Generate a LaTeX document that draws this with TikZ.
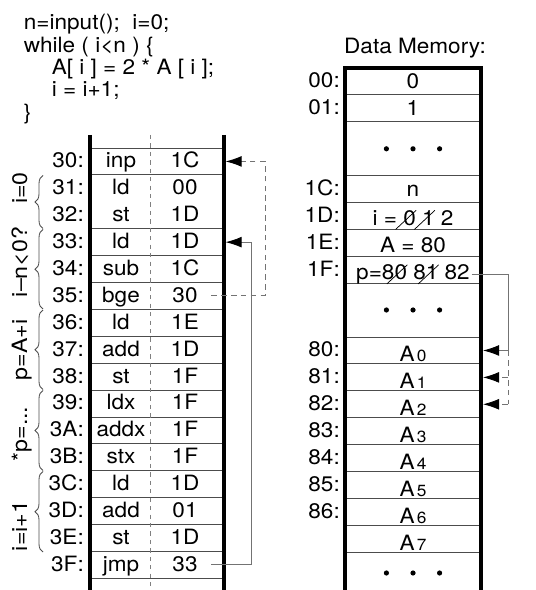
\documentclass[tikz,border=0pt]{standalone}
\usepackage{fontspec}
\setmainfont{TeX Gyre Heros}
\usetikzlibrary{arrows.meta,decorations.pathreplacing}

\tikzset{
  txt/.style={font=\fontsize{15}{18}\selectfont, inner sep=1pt, xscale=1.07, anchor=base},
  addr/.style={txt, anchor=base east},
  code/.style={txt, anchor=base west},
  lbl/.style={font=\fontsize{15}{18}\selectfont, inner sep=1pt, rotate=90, xscale=1.1, anchor=base},
  rowline/.style={draw=black!70, line width=0.6pt},
  wall/.style={line width=2.2pt},
  divline/.style={draw=black!50, line width=0.6pt, dash pattern=on 3pt off 3pt},
  conn/.style={draw=black!55, line width=0.6pt, -{Latex[length=0.4cm,width=0.27cm,color=black]}},
  dconn/.style={conn, dash pattern=on 4pt off 3pt},
  dline/.style={draw=black!55, line width=0.6pt, dash pattern=on 4pt off 3pt},
  brc/.style={decorate, decoration={brace,amplitude=0.2cm}, draw=black!70, line width=0.6pt}
}

\newcommand{\xo}[1]{\tikz[baseline=(xo.base)]{\node[inner sep=0pt,anchor=base] (xo) at (0,0) {#1}; \draw[overlay, line width=0.5pt] (xo.north east) -- ++(-0.48,-0.48);}}

\begin{document}
\begin{tikzpicture}[]
        \useasboundingbox (0,0) rectangle (13.4,14.75);

        \node[code] (c1) at (0.55,14.0) {n=input();~~i=0;};
        \node[code] (c2) at (0.55,13.4425) {while ( i<n ) \{};
        \node[code] (c3) at (1.25,12.885) {A[ i ] = 2 * A [ i ];};
        \node[code] (c4) at (1.25,12.3275) {i = i+1;};
        \node[code] (c5) at (0.55,11.77) {\}};

        % program memory
        \foreach \k in {0,1,3,4,...,16}
            \draw[rowline] (2.25,{11.05-0.6725*\k}) -- (5.6,{11.05-0.6725*\k});
        \draw[divline] (3.75,11.375) -- (3.75,0);
        \draw[wall] (2.25,11.375) -- (2.25,0);
        \draw[wall] (5.6,11.375) -- (5.6,0);

        \foreach \ad/\op/\ar [count=\k from 0] in {30/inp/1C,31/ld/00,32/st/1D,33/ld/1D,34/sub/1C,35/bge/30,36/ld/1E,37/add/1D,38/st/1F,39/ldx/1F,3A/addx/1F,3B/stx/1F,3C/ld/1D,3D/add/01,3E/st/1D,3F/jmp/33} {
            \node[addr] (a\ad) at (2.14,{11.05-0.6725*(\k+1)+0.175}) {\ad:};
            \node[txt] (op\ad) at (3.025,{11.05-0.6725*(\k+1)+0.175}) {\op};
            \node[txt] (ar\ad) at (4.625,{11.05-0.6725*(\k+1)+0.175}) {\ar};
        }

        \draw[brc] (1.075,9.0375) -- (1.075,10.3625);
        \draw[brc] (1.075,7.025) -- (1.075,9.0125);
        \draw[brc] (1.075,5.0125) -- (1.075,7.0);
        \draw[brc] (1.075,2.9875) -- (1.075,4.9875);
        \draw[brc] (1.075,0.95) -- (1.075,2.9625);

        \node[lbl] (l1) at (0.675,10.05) {i=0};
        \node[lbl] (l2) at (0.675,8.2) {i--n<0?};
        \node[lbl] (l3) at (0.675,6.0) {p=A+i};
        \node[lbl] (l4) at (0.675,3.9) {*p=...};
        \node[lbl] (l5) at (0.675,1.6) {i=i+1};

        \coordinate (in30) at (5.64,10.714);
        \coordinate (bk30) at (6.625,10.714);
        \coordinate (in33) at (5.64,8.696);
        \coordinate (bk33) at (6.275,8.696);
        \draw[dconn, shorten <=0.3cm] (ar35.east) -| (bk30) -- (in30);
        \draw[conn, shorten <=0.3cm] (ar3F.east) -| (bk33) -- (in33);

        % data memory
        \node[txt] (title) at (10.375,13.4) {Data Memory:};
        \foreach \j in {1,2,4,5,6,7,8,10,11,...,18}
            \draw[rowline] (8.625,{13.05-0.6725*\j}) -- (12.025,{13.05-0.6725*\j});
        \draw[wall] (8.625,0) -- (8.625,13.05) -- (12.025,13.05) -- (12.025,0);

        \foreach \j/\ad in {0/00,1/01,4/1C,5/1D,6/1E,7/1F,10/80,11/81,12/82,13/83,14/84,15/85,16/86}
            \node[addr] (d\ad) at (8.54,{13.05-0.6725*(\j+1)+0.175}) {\ad:};

        \node[txt] (m00) at (10.325,12.525) {0};
        \node[txt] (m01) at (10.325,11.85) {1};
        \node[txt] (m1C) at (10.325,9.825) {n};
        \node[txt] (m1D) at (10.325,9.1125) {i = \xo{0} \xo{1} 2};
        \node[txt] (m1E) at (10.325,8.44) {A = 80};
        \node[txt] (m1F) at (10.325,7.75) {p=\xo{80} \xo{81} 82};

        \foreach \n [count=\j from 10] in {0,...,7}
            \node[txt] (A\n) at (10.325,{13.05-0.6725*(\j+1)+0.05}) {A\kern1.5pt{\fontsize{11.5}{12}\selectfont\n}};

        \foreach \x in {9.66,10.325,10.99}
            \foreach \y in {11.03,7.0,0.425}
                \fill (\x,\y) circle (0.065);

        \coordinate (p80) at (12.075,5.988);
        \coordinate (p81) at (12.075,5.315);
        \coordinate (p82) at (12.075,4.643);
        \coordinate (bkP) at (12.7,5.988);
        \draw[conn] (m1F.east) -| (bkP) -- (p80);
        \draw[dline] (bkP) -- (bkP |- p82);
        \draw[dconn] (bkP |- p81) -- (p81);
        \draw[dconn] (bkP |- p82) -- (p82);

\end{tikzpicture}
\end{document}
